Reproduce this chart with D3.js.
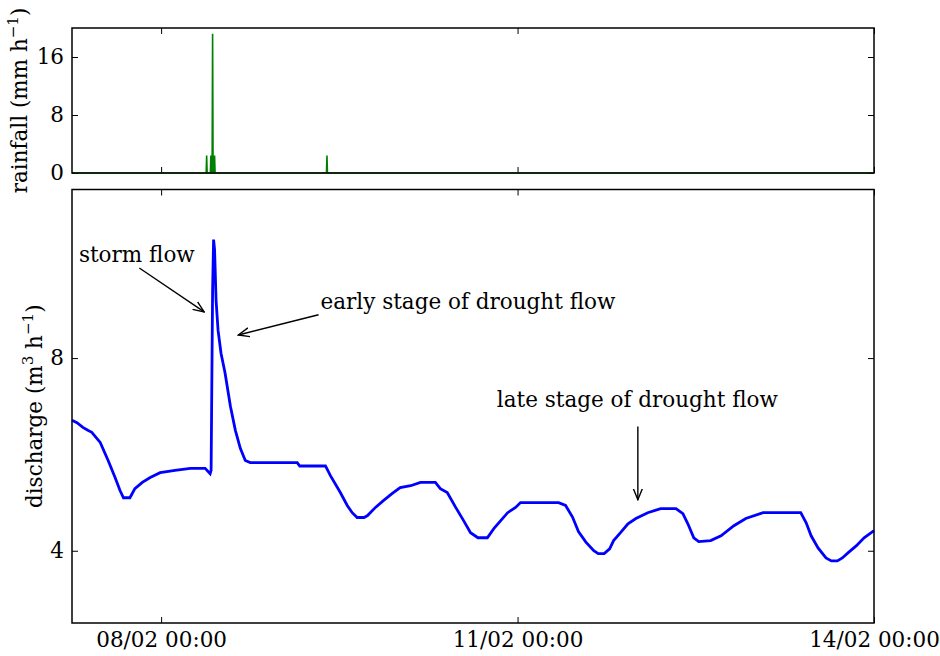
<!DOCTYPE html>
<html>
<head>
<meta charset="utf-8">
<script src="https://cdn.jsdelivr.net/npm/d3@7"></script>
<style>
  body { margin: 0; background: #fff; }
  svg text { font-family: "DejaVu Serif", serif; fill: #000; }
</style>
</head>
<body>
<div id="viz-container"></div>
<script>
// hours counted from 07/02 00:00
let rainHours  = [6, 33.1, 33.2, 33.3, 33.95, 34.05, 34.15, 34.3, 34.4, 34.5, 34.7, 34.8, 34.9, 57.4, 57.5, 57.6, 168];
let rainValues = [0, 0,    2.4,  0,    0,     2.4,   0,     0,    19.2, 0,    0,    2.4,  0,    0,    2.4,  0,    0];

let dischargeHours = [6, 7.0, 8.2, 9.2, 10, 11.7, 13.3, 14.7, 15.7, 16.4, 17.7, 18.7, 20.2, 21.8, 23.8, 26.8, 29.9, 32.9, 33.9,
  34.1, 34.4, 34.6, 34.8, 35.1, 35.5, 36.1, 36.9, 38.0, 39.0, 40.0, 41.0, 42.0, 51.5, 52.0, 57.2, 58.2, 60.2, 61.6,
  62.6, 63.6, 65.0, 65.7, 67.3, 68.9, 70.7, 72.3, 74.4, 76.4, 79.4, 80.4, 81.8, 83.5, 85.1, 86.5, 88.0, 89.9, 91.2, 92.6,
  94.0, 95.6, 96.6, 104.3, 105.7, 107.1, 108.3, 109.8, 111.4, 112.3, 113.5, 114.6, 115.4, 116.8, 118.3, 119.9, 122.3, 124.9,
  128.0, 129.4, 130.4, 131.6, 132.6, 135.0, 137.1, 139.7, 142.1, 145.6, 153.2, 154.3, 155.3, 156.7, 158.3, 159.4, 160.6,
  161.6, 162.8, 164.4, 166.0, 168.0];
let dischargeValues = [6.71, 6.66, 6.56, 6.5, 6.46, 6.25, 5.875, 5.52, 5.25, 5.10, 5.10, 5.29, 5.42, 5.52, 5.62, 5.67, 5.71, 5.71, 5.60,
  5.67, 9.4, 10.46, 10.25, 9.2, 8.58, 8.1, 7.7, 7.0, 6.5, 6.125, 5.875, 5.83, 5.83, 5.76, 5.76, 5.56, 5.21, 4.94,
  4.79, 4.69, 4.69, 4.73, 4.9, 5.04, 5.19, 5.31, 5.35, 5.42, 5.42, 5.29, 5.21, 4.9, 4.625, 4.375, 4.27, 4.27, 4.46, 4.625,
  4.79, 4.9, 5.0, 5.0, 4.94, 4.7, 4.4, 4.18, 4.0, 3.94, 3.94, 4.04, 4.21, 4.375, 4.56, 4.67, 4.79, 4.875,
  4.875, 4.77, 4.56, 4.27, 4.19, 4.21, 4.31, 4.52, 4.67, 4.79, 4.79, 4.58, 4.31, 4.06, 3.85, 3.79, 3.79,
  3.85, 3.96, 4.1, 4.27, 4.42];

let timeTicks = [24, 96, 168];
let rainTicks = [0, 8, 16];
let dischargeTicks = [4, 8];

// annotations: text anchor and arrow tail/tip in data units
let notes = [
  { text: "storm flow", anchor: "start", tx: 7.4, ty: 10.0, x0: 19.6, y0: 9.87, x1: 32.7, y1: 8.96 },
  { text: "early stage of drought flow", anchor: "start", tx: 56.2, ty: 9.02, x0: 55.8, y0: 8.9, x1: 39.6, y1: 8.48 },
  { text: "late stage of drought flow", anchor: "middle", tx: 120.2, ty: 6.98, x0: 120.3, y0: 6.58, x1: 120.3, y1: 5.06 }
];

let base = new Date(2015, 1, 7, 0, 0);
function toDate(h) { return new Date(base.getTime() + h * 3600e3); }

let W = 940, H = 656;
let left = 72, right = 874;
let fs = 21.5;

let viz = d3.select("#viz-container").append("svg")
  .attr("width", W).attr("height", H);

viz.append("defs").append("marker")
  .attr("id", "arrow")
  .attr("viewBox", "0 -6 12 12")
  .attr("refX", 11).attr("refY", 0)
  .attr("markerWidth", 12).attr("markerHeight", 12)
  .attr("markerUnits", "userSpaceOnUse")
  .attr("orient", "auto")
  .append("path")
    .attr("d", "M0,-4.5L11,0L0,4.5")
    .attr("fill", "none")
    .attr("stroke", "#000")
    .attr("stroke-width", 1.4);

let x = d3.scaleTime()
  .domain([toDate(6), toDate(168)])
  .range([left, right]);

let yRain = d3.scaleLinear().domain([0, 20]).range([173, 28]);
let yDis = d3.scaleLinear().domain([2.5, 11.5]).range([623, 189.5]);

let fmt = d3.timeFormat("%d/%m %H:%M");

function drawPanel(y, yTicks, showX) {
  let top = y.range()[1], bottom = y.range()[0];
  let g = viz.append("g");

  g.append("g").attr("transform", "translate(0," + bottom + ")")
    .call(d3.axisBottom(x).tickValues(timeTicks.map(toDate)).tickSize(-6).tickPadding(9)
      .tickFormat(showX ? fmt : ""));
  g.append("g").attr("transform", "translate(0," + top + ")")
    .call(d3.axisTop(x).tickValues(timeTicks.map(toDate)).tickSize(-6).tickFormat(""));
  g.append("g").attr("transform", "translate(" + left + ",0)")
    .call(d3.axisLeft(y).tickValues(yTicks).tickSize(-6).tickPadding(8));
  g.append("g").attr("transform", "translate(" + right + ",0)")
    .call(d3.axisRight(y).tickValues(yTicks).tickSize(-6).tickFormat(""));

  g.selectAll(".domain").remove();
  g.selectAll(".tick line").attr("stroke", "#000").attr("stroke-width", 1);
  g.selectAll(".tick text").attr("font-size", fs).attr("font-family", "DejaVu Serif");
  return g;
}

function frame(y) {
  viz.append("rect")
    .attr("x", left).attr("y", y.range()[1])
    .attr("width", right - left).attr("height", y.range()[0] - y.range()[1])
    .attr("fill", "none").attr("stroke", "#000").attr("stroke-width", 1.5);
}

drawPanel(yRain, rainTicks, false);
drawPanel(yDis, dischargeTicks, true);

// rainfall
let rain = rainHours.map((h, i) => ({ t: toDate(h), v: rainValues[i] }));
viz.append("path").datum(rain)
  .attr("fill", "none")
  .attr("stroke", "#008000")
  .attr("stroke-width", 1.6)
  .attr("d", d3.line().x(d => x(d.t)).y(d => yRain(d.v)));

// discharge
let dis = dischargeHours.map((h, i) => ({ t: toDate(h), v: dischargeValues[i] }));
viz.append("path").datum(dis)
  .attr("fill", "none")
  .attr("stroke", "#0000ff")
  .attr("stroke-width", 2.8)
  .attr("d", d3.line().x(d => x(d.t)).y(d => yDis(d.v)));

frame(yRain);
frame(yDis);

// annotations
notes.forEach(n => {
  viz.append("line")
    .attr("x1", x(toDate(n.x0))).attr("y1", yDis(n.y0))
    .attr("x2", x(toDate(n.x1))).attr("y2", yDis(n.y1))
    .attr("stroke", "#000").attr("stroke-width", 1.4)
    .attr("marker-end", "url(#arrow)");
  viz.append("text")
    .attr("x", x(toDate(n.tx))).attr("y", yDis(n.ty))
    .attr("text-anchor", n.anchor)
    .attr("font-size", fs)
    .text(n.text);
});

// axis labels
let rl = viz.append("text")
  .attr("transform", "translate(27," + ((yRain.range()[0] + yRain.range()[1]) / 2) + ") rotate(-90)")
  .attr("text-anchor", "middle").attr("font-size", fs);
rl.append("tspan").text("rainfall (mm h");
rl.append("tspan").attr("dy", -9).attr("font-size", fs * 0.7).text("\u22121");
rl.append("tspan").attr("dy", 9).text(")");

let dl = viz.append("text")
  .attr("transform", "translate(42," + ((yDis.range()[0] + yDis.range()[1]) / 2) + ") rotate(-90)")
  .attr("text-anchor", "middle").attr("font-size", fs);
dl.append("tspan").text("discharge (m");
dl.append("tspan").attr("dy", -9).attr("font-size", fs * 0.7).text("3");
dl.append("tspan").attr("dy", 9).text(" h");
dl.append("tspan").attr("dy", -9).attr("font-size", fs * 0.7).text("\u22121");
dl.append("tspan").attr("dy", 9).text(")");
</script>
</body>
</html>
